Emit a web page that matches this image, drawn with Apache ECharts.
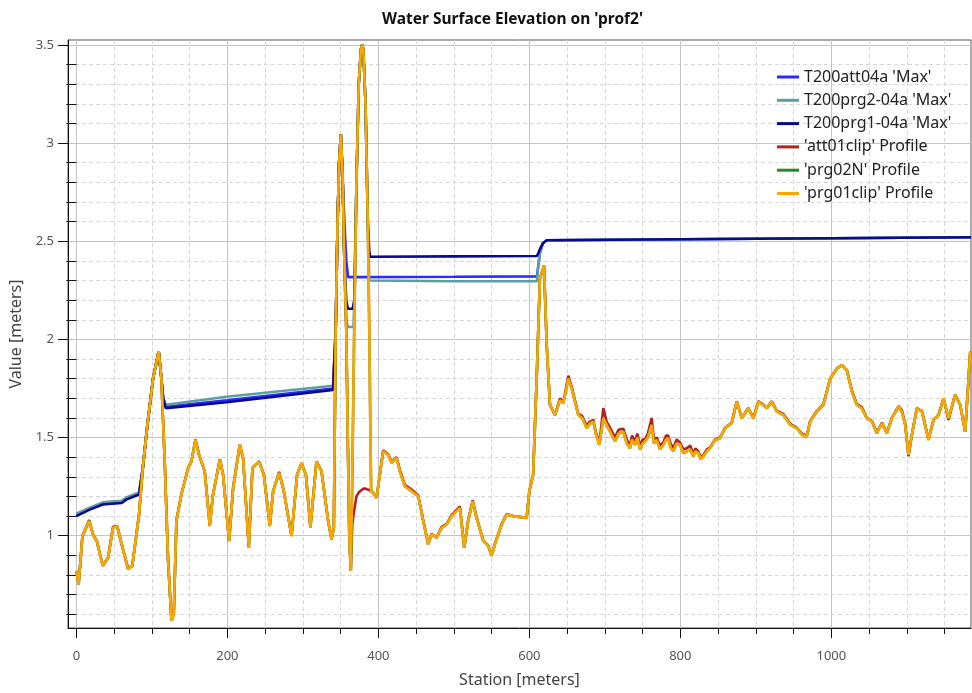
<!DOCTYPE html>
<html>
<head>
<meta charset="utf-8">
<script src="https://cdn.jsdelivr.net/npm/echarts@6/dist/echarts.min.js"></script>
<style>
html,body{margin:0;padding:0;background:#fff;}
#chart{width:972px;height:693px;}
</style>
</head>
<body>
<div id="chart"></div>
<script>
// ---------- Data ----------
const xMajorTicks = [0, 200, 400, 600, 800, 1000];
const xMinorTicks = [50,100,150,250,300,350,450,500,550,650,700,750,850,900,950,1050,1100,1150];
const yMajorTicks = [1, 1.5, 2, 2.5, 3, 3.5];
const yMinorTicks = [0.6,0.7,0.8,0.9,1.1,1.2,1.3,1.4,1.6,1.7,1.8,1.9,2.1,2.2,2.3,2.4,2.6,2.7,2.8,2.9,3.1,3.2,3.3,3.4];

const seriesNames = ["T200att04a 'Max'", "T200prg2-04a 'Max'", "T200prg1-04a 'Max'", "'att01clip' Profile", "'prg02N' Profile", "'prg01clip' Profile"];

// Max envelopes
const att04aStations = [0,17.6,35,60,66,77,83,88,93.6,101.5,109,112.6,115,118.6,199,340,343.5,346,348,350.3,352.5,355,357.5,359.9,500,610,612,614,618,623,800,1000,1185];
const att04aMax      = [1.105,1.137,1.163,1.171,1.188,1.205,1.213,1.345,1.548,1.80,1.94,1.80,1.70,1.657,1.69,1.75,2.05,2.6,2.9,3.044,2.85,2.6,2.4,2.317,2.319,2.321,2.38,2.44,2.49,2.505,2.51,2.515,2.52];

const prg2Stations = [0,17.6,35,60,66,77,83,88,93.6,101.5,109,112.6,115,118.6,199,340,343.5,346,348,350.3,352.5,355,357.5,359.5,367,369,371,374,377,378.5,380,383,386,388,389,500,610,612,614,618,623,800,1000,1185];
const prg2Max      = [1.112,1.143,1.17,1.178,1.195,1.212,1.22,1.345,1.548,1.80,1.94,1.80,1.70,1.667,1.708,1.764,2.05,2.6,2.9,3.044,2.85,2.4,2.1,2.063,2.063,2.3,2.8,3.3,3.48,3.5,3.48,3.2,2.6,2.3,2.295,2.296,2.297,2.38,2.44,2.49,2.505,2.51,2.515,2.52];

const prg1Stations = [0,17.6,35,60,66,77,83,88,93.6,101.5,109,112.6,115,118.6,199,340,343.5,346,348,350.3,352.5,355,357.5,359.5,366,368,371,374,377,378.5,380,383,386,388,389,390,500,610,612,614,618,623,800,1000,1185];
const prg1Max      = [1.10,1.133,1.159,1.167,1.184,1.201,1.21,1.345,1.548,1.80,1.94,1.80,1.70,1.649,1.68,1.742,2.05,2.6,2.9,3.044,2.85,2.4,2.2,2.156,2.156,2.2,2.8,3.3,3.48,3.5,3.48,3.2,2.6,2.45,2.421,2.421,2.423,2.425,2.44,2.46,2.49,2.505,2.51,2.515,2.52];

// Profiles (shared stations)
const profileStations = [0,3,8,17,22,27,35,42,48.5,54,60,68.5,74,83,88,93.6,101.5,109,112.6,117,121.5,126,129,132.5,139,148,152.4,157.7,162.5,170,176.7,181,190,194.3,202.3,207.6,216.4,220.8,228.4,233.2,242,248.3,256.2,260.6,268.6,274.8,285,292.4,298.2,304,310,318,324.7,333.5,338,341,343.5,346,348,350.3,352.5,355,357.5,359.5,361.5,363.5,365.5,368,371,374,377,378.5,380,383,386,388,389.5,390.5,394,397.6,406.4,413,417.5,424,428.5,435,444,452.8,459.4,466,470.5,477,483.8,490.4,497,508,513.7,519,524.9,530,539,545.5,550,554.4,563.3,570,578.7,596.4,600,605,609.7,614,619.4,623,627.3,634,640.6,645,651.6,656,664.8,670,676,680,684.7,688,692.7,698,702.4,707,713.5,718,724.5,729,733.3,736,740,743,746.6,750,753.2,757,762,765,768.7,773,777.5,781,784,787,790.7,795,799.5,804,808.5,813,817.2,820,823.9,827,830.5,835,839.4,846,852.6,859.2,868,874.7,881.4,890,896.7,903.4,910,914.5,921.2,927.8,936.5,945.4,954.3,961,967.5,972,980.8,989.5,998.4,1007.3,1014,1020.6,1027.2,1033.8,1040.4,1047,1053.7,1060.3,1067,1073.6,1080.2,1089,1093.4,1097.8,1102.2,1106.7,1113.3,1120,1128.7,1135.3,1142,1148.6,1155.2,1164,1170.7,1177.3,1184];

const prg01clipWse = [0.82,0.753,0.998,1.075,1.007,0.973,0.846,0.888,1.04,1.049,0.956,0.829,0.846,1.108,1.345,1.548,1.80,1.94,1.80,1.379,0.872,0.567,0.601,1.075,1.21,1.345,1.379,1.488,1.412,1.328,1.049,1.21,1.387,1.311,0.973,1.243,1.463,1.396,0.939,1.345,1.379,1.311,1.049,1.227,1.32,1.227,0.998,1.311,1.37,1.311,1.04,1.379,1.328,1.075,0.981,1.04,2.05,2.6,2.9,3.044,2.85,2.4,2.05,1.5,1.0,0.821,1.3,2.05,2.8,3.3,3.48,3.5,3.48,3.2,2.6,2.05,1.5,1.227,1.215,1.193,1.43,1.412,1.37,1.396,1.328,1.252,1.227,1.201,1.075,0.956,1.007,0.99,1.04,1.057,1.10,1.142,0.939,1.075,1.176,1.091,0.973,0.948,0.897,0.956,1.057,1.108,1.10,1.091,1.227,1.311,1.801,2.31,2.376,1.97,1.666,1.615,1.691,1.674,1.801,1.75,1.615,1.60,1.548,1.57,1.582,1.52,1.463,1.598,1.565,1.53,1.48,1.52,1.53,1.47,1.446,1.49,1.463,1.50,1.438,1.47,1.48,1.50,1.565,1.47,1.488,1.44,1.463,1.49,1.497,1.45,1.43,1.47,1.463,1.42,1.43,1.44,1.404,1.43,1.421,1.39,1.404,1.43,1.446,1.488,1.497,1.548,1.573,1.683,1.598,1.649,1.598,1.683,1.666,1.649,1.683,1.632,1.615,1.565,1.548,1.514,1.505,1.582,1.632,1.666,1.801,1.852,1.869,1.843,1.734,1.666,1.649,1.598,1.582,1.522,1.573,1.522,1.598,1.658,1.632,1.565,1.412,1.514,1.649,1.632,1.488,1.59,1.615,1.70,1.598,1.717,1.666,1.53,1.937];

const prg02NWse = prg01clipWse.slice();

const att01clipWse = [0.82,0.753,0.998,1.08,1.007,0.973,0.85,0.888,1.045,1.049,0.956,0.833,0.846,1.108,1.345,1.548,1.80,1.94,1.80,1.379,0.872,0.567,0.601,1.075,1.21,1.345,1.379,1.49,1.412,1.328,1.055,1.21,1.39,1.311,0.973,1.243,1.463,1.396,0.945,1.345,1.379,1.311,1.055,1.227,1.325,1.227,1.0,1.311,1.37,1.311,1.045,1.379,1.33,1.075,0.985,1.04,2.05,2.6,2.9,3.044,2.85,2.4,2.05,1.5,1.0,0.821,1.06,1.13,1.2,1.22,1.23,1.235,1.24,1.24,1.235,1.23,1.23,1.227,1.215,1.193,1.435,1.415,1.375,1.40,1.335,1.26,1.235,1.205,1.08,0.96,1.01,0.99,1.045,1.06,1.105,1.15,0.94,1.08,1.18,1.095,0.975,0.95,0.9,0.96,1.06,1.11,1.10,1.091,1.227,1.311,1.801,2.31,2.376,1.97,1.666,1.615,1.70,1.68,1.815,1.76,1.62,1.61,1.56,1.58,1.59,1.53,1.47,1.65,1.58,1.55,1.50,1.54,1.545,1.49,1.46,1.51,1.48,1.52,1.455,1.49,1.49,1.52,1.60,1.49,1.50,1.46,1.475,1.51,1.51,1.47,1.445,1.49,1.475,1.44,1.445,1.46,1.415,1.445,1.43,1.40,1.41,1.44,1.45,1.49,1.50,1.55,1.575,1.685,1.60,1.65,1.60,1.685,1.668,1.65,1.685,1.635,1.62,1.57,1.55,1.52,1.51,1.585,1.635,1.67,1.80,1.852,1.869,1.843,1.74,1.67,1.655,1.60,1.585,1.525,1.575,1.525,1.60,1.66,1.64,1.57,1.405,1.515,1.65,1.635,1.49,1.59,1.615,1.70,1.59,1.717,1.666,1.53,1.937];

const seriesColors = ['#2b2bff', '#5f9ea0', '#0a0a8c', '#b22222', '#228b22', '#ffa500'];

// ---------- Chart ----------
function pairs(xs, ys) { return xs.map((x, i) => [x, ys[i]]); }

const X_MIN = -11.1, X_MAX = 1185;
const Y_MIN = 0.53, Y_MAX = 3.525;
const FONT = 'Noto Sans';

const chart = echarts.init(document.getElementById('chart'), null, {renderer: 'canvas'});

const allData = [
  pairs(att04aStations, att04aMax),
  pairs(prg2Stations, prg2Max),
  pairs(prg1Stations, prg1Max),
  pairs(profileStations, att01clipWse),
  pairs(profileStations, prg02NWse),
  pairs(profileStations, prg01clipWse)
];

chart.setOption({
  animation: false,
  backgroundColor: '#ffffff',
  title: {
    text: "Water Surface Elevation on 'prof2'",
    left: 377, top: 7,
    textStyle: {fontFamily: FONT, fontSize: 15.5, fontWeight: 'bold', color: '#111'}
  },
  legend: {
    orient: 'vertical',
    left: 772, top: 64,
    itemWidth: 22, itemHeight: 3, itemGap: 7.3,
    icon: 'rect',
    data: seriesNames,
    textStyle: {fontFamily: FONT, fontSize: 16, color: '#222', lineHeight: 16, padding: [0,0,0,0]}
  },
  grid: {
    left: 68, right: 1, top: 40, bottom: 62,
    show: true, borderColor: '#555', borderWidth: 1
  },
  xAxis: [
    { // minor grid & ticks
      type: 'value', position: 'bottom', min: X_MIN, max: X_MAX, splitNumber: 24,
      axisLine: {show: false},
      axisTick: {show: true, inside: false, length: 6, customValues: xMinorTicks, lineStyle: {color: '#111', width: 1}},
      axisLabel: {show: false},
      splitLine: {show: true, lineStyle: {color: '#d6d6d6', type: [4, 3], width: 1}}
    },
    { // major
      type: 'value', position: 'bottom', min: X_MIN, max: X_MAX, splitNumber: 6,
      name: 'Station [meters]', nameLocation: 'middle', nameGap: 44,
      nameTextStyle: {fontFamily: FONT, fontSize: 16, color: '#444'},
      axisLine: {show: true, onZero: false, lineStyle: {color: '#111', width: 1}},
      axisTick: {show: true, inside: false, length: 10, customValues: xMajorTicks, lineStyle: {color: '#111', width: 1}},
      axisLabel: {show: true, customValues: xMajorTicks, margin: 22, fontFamily: FONT, fontSize: 13, color: '#555',
                  formatter: v => String(v)},
      splitLine: {show: true, lineStyle: {color: '#c4c4c4', width: 1}}
    }
  ],
  yAxis: [
    { // minor
      type: 'value', position: 'left', min: Y_MIN, max: Y_MAX, splitNumber: 30,
      axisLine: {show: false},
      axisTick: {show: true, inside: false, length: 10, customValues: yMinorTicks, lineStyle: {color: '#111', width: 1}},
      axisLabel: {show: false},
      splitLine: {show: true, lineStyle: {color: '#d6d6d6', type: [4, 3], width: 1}}
    },
    { // major
      type: 'value', position: 'left', min: Y_MIN, max: Y_MAX, splitNumber: 6,
      name: 'Value [meters]', nameLocation: 'middle', nameGap: 41,
      nameTextStyle: {fontFamily: FONT, fontSize: 16, color: '#444'},
      axisLine: {show: true, onZero: false, lineStyle: {color: '#111', width: 1}},
      axisTick: {show: true, inside: false, length: 10, customValues: yMajorTicks, lineStyle: {color: '#111', width: 1}},
      axisLabel: {show: true, customValues: yMajorTicks, margin: 14, fontFamily: FONT, fontSize: 13, color: '#555'},
      splitLine: {show: true, lineStyle: {color: '#c4c4c4', width: 1}}
    }
  ],
  series: seriesNames.map((name, i) => ({
    name: name,
    type: 'line',
    xAxisIndex: 1, yAxisIndex: 1,
    data: allData[i],
    showSymbol: false,
    symbol: 'none',
    clip: true,
    color: seriesColors[i],
    lineStyle: {color: seriesColors[i], width: 2.6},
    z: 2 + i
  }))
});
</script>
</body>
</html>
